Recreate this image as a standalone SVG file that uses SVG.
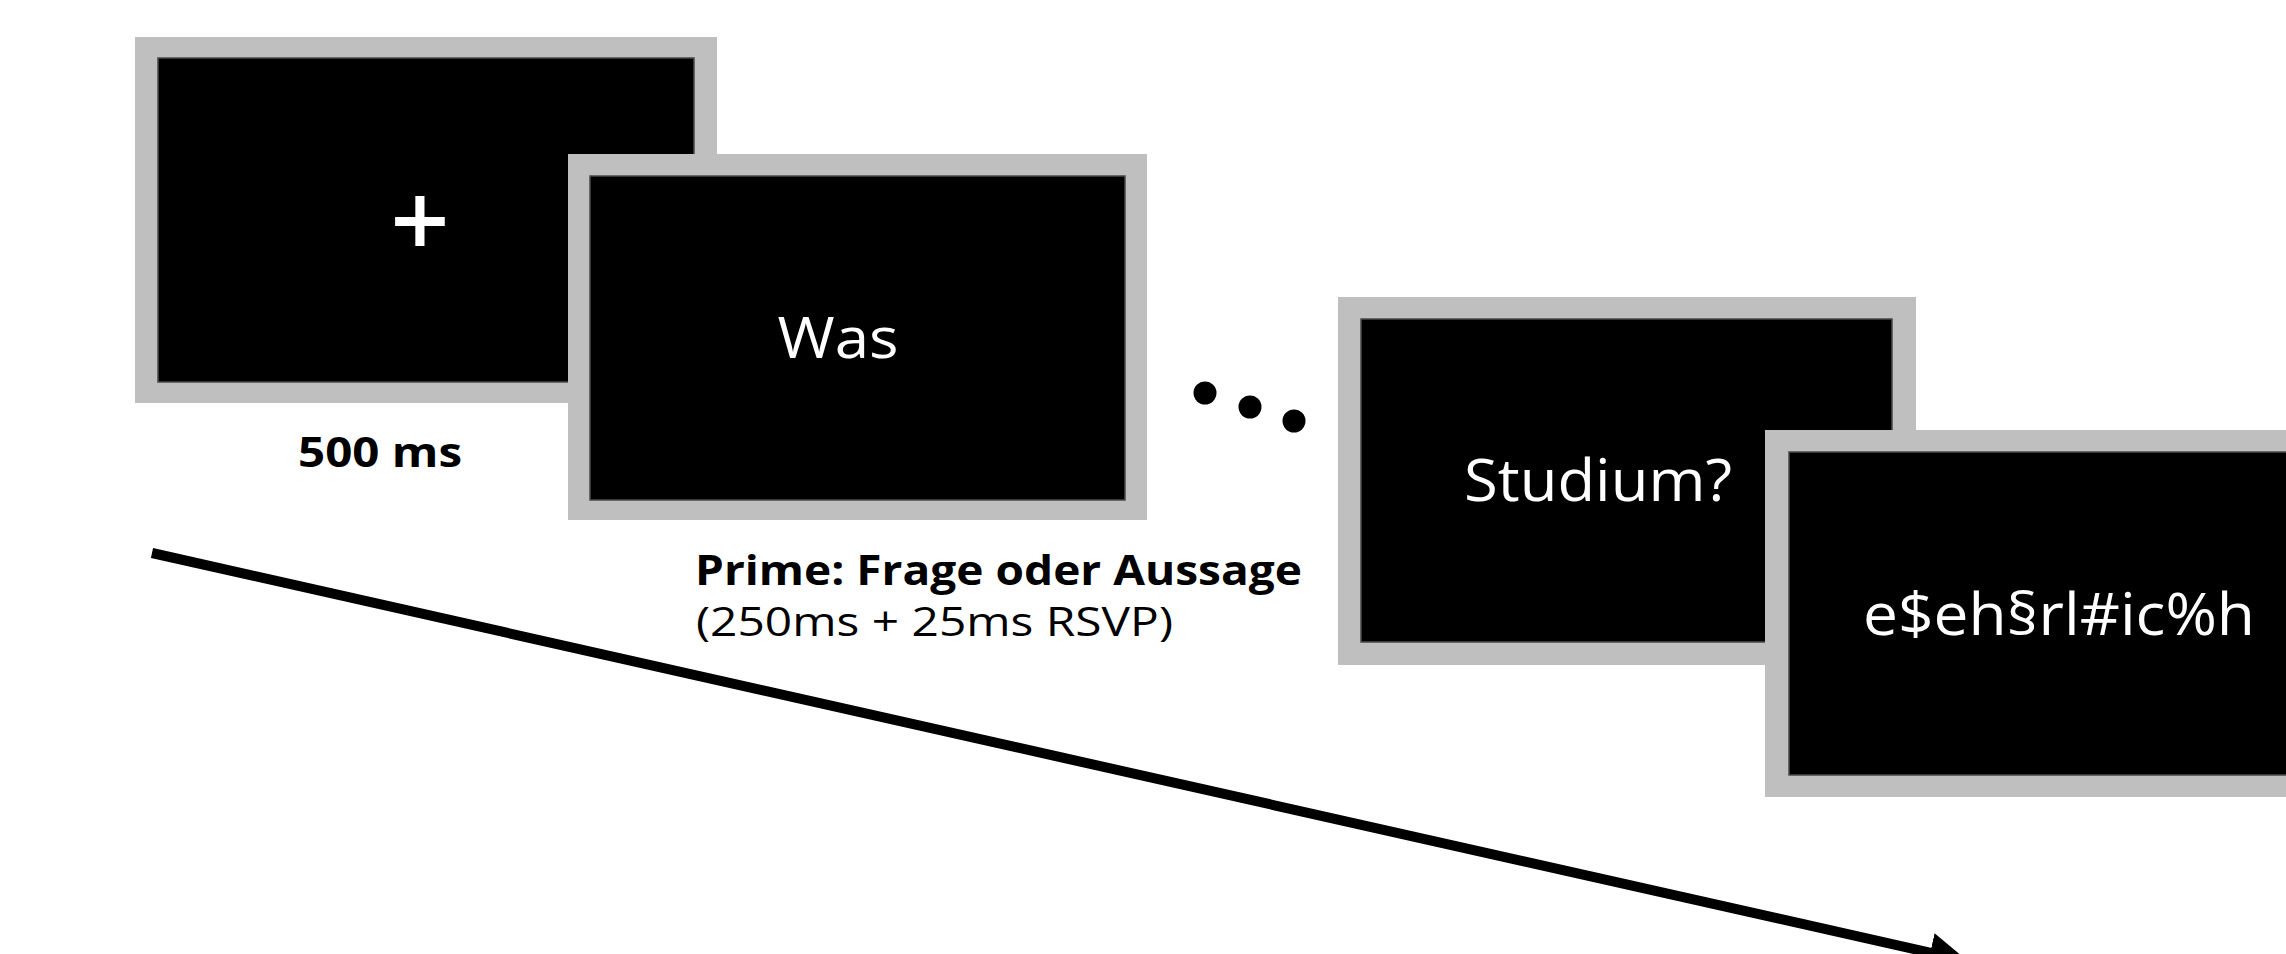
<svg xmlns="http://www.w3.org/2000/svg" width="2286" height="954" viewBox="0 0 2286 954">
  <defs>
    <style>
      .frame { fill: #bfbfbf; }
      .screen { fill: #000000; stroke: #4a4a4a; stroke-width: 1.5; }
      .stim { fill: #ffffff; font-family: "Open Sans", "Noto Sans", "DejaVu Sans", sans-serif; }
      .label { fill: #000000; font-family: "Open Sans", "Noto Sans", "DejaVu Sans", sans-serif; }
      .bold { font-weight: 700; }
      .timeline { stroke: #000000; stroke-width: 10; fill: none; }
    </style>
    <marker id="arrowHead" markerUnits="userSpaceOnUse" markerWidth="40" markerHeight="40" viewBox="0 0 32 32" refX="6" refY="16" orient="auto">
      <path d="M0,0 L31,16 L0,32 z" fill="#000000"/>
    </marker>
  </defs>

  <rect width="2286" height="954" fill="#ffffff"/>

  <!-- Fixation screen -->
  <g id="screen-fixation">
    <rect class="frame" x="135" y="37" width="582" height="366"/>
    <rect class="screen" x="158" y="58" width="536" height="324"/>
    <text class="stim" x="420" y="258" font-size="104" font-weight="600" text-anchor="middle">+</text>
  </g>

  <!-- Prime word screen -->
  <g id="screen-prime">
    <rect class="frame" x="568" y="154" width="579" height="366"/>
    <rect class="screen" x="590" y="176" width="535" height="324"/>
    <text class="stim" x="838" y="358" font-size="57" text-anchor="middle" textLength="121" lengthAdjust="spacingAndGlyphs">Was</text>
  </g>

  <!-- Ellipsis between screens -->
  <g id="ellipsis">
    <circle cx="1205" cy="393" r="11.5" fill="#000000"/>
    <circle cx="1250" cy="407" r="11.5" fill="#000000"/>
    <circle cx="1294" cy="421" r="11.5" fill="#000000"/>
  </g>

  <!-- Last word screen -->
  <g id="screen-last-word">
    <rect class="frame" x="1338" y="297" width="578" height="368"/>
    <rect class="screen" x="1361" y="319" width="531" height="323"/>
    <text class="stim" x="1464" y="501" font-size="59" textLength="268" lengthAdjust="spacingAndGlyphs">Studium?</text>
  </g>

  <!-- Mask screen -->
  <g id="screen-mask">
    <rect class="frame" x="1765" y="430" width="580" height="367"/>
    <rect class="screen" x="1789" y="452" width="536" height="323"/>
    <text class="stim" x="1863" y="635" font-size="59" textLength="392" lengthAdjust="spacingAndGlyphs">e$eh§rl#ic%h</text>
  </g>

  <!-- Timing labels -->
  <g id="label-fixation">
    <text class="label bold" x="298" y="467" font-size="42" textLength="164" lengthAdjust="spacingAndGlyphs">500 ms</text>
  </g>
  <g id="label-prime">
    <text class="label bold" x="695" y="585" font-size="42" textLength="607" lengthAdjust="spacingAndGlyphs">Prime: Frage oder Aussage</text>
    <text class="label" x="696" y="636" font-size="40" textLength="477" lengthAdjust="spacingAndGlyphs">(250ms + 25ms RSVP)</text>
  </g>

  <!-- Time axis -->
  <g id="connectors">
    <line class="timeline" x1="152" y1="553" x2="1937.5" y2="954.3" marker-end="url(#arrowHead)"/>
  </g>
</svg>
